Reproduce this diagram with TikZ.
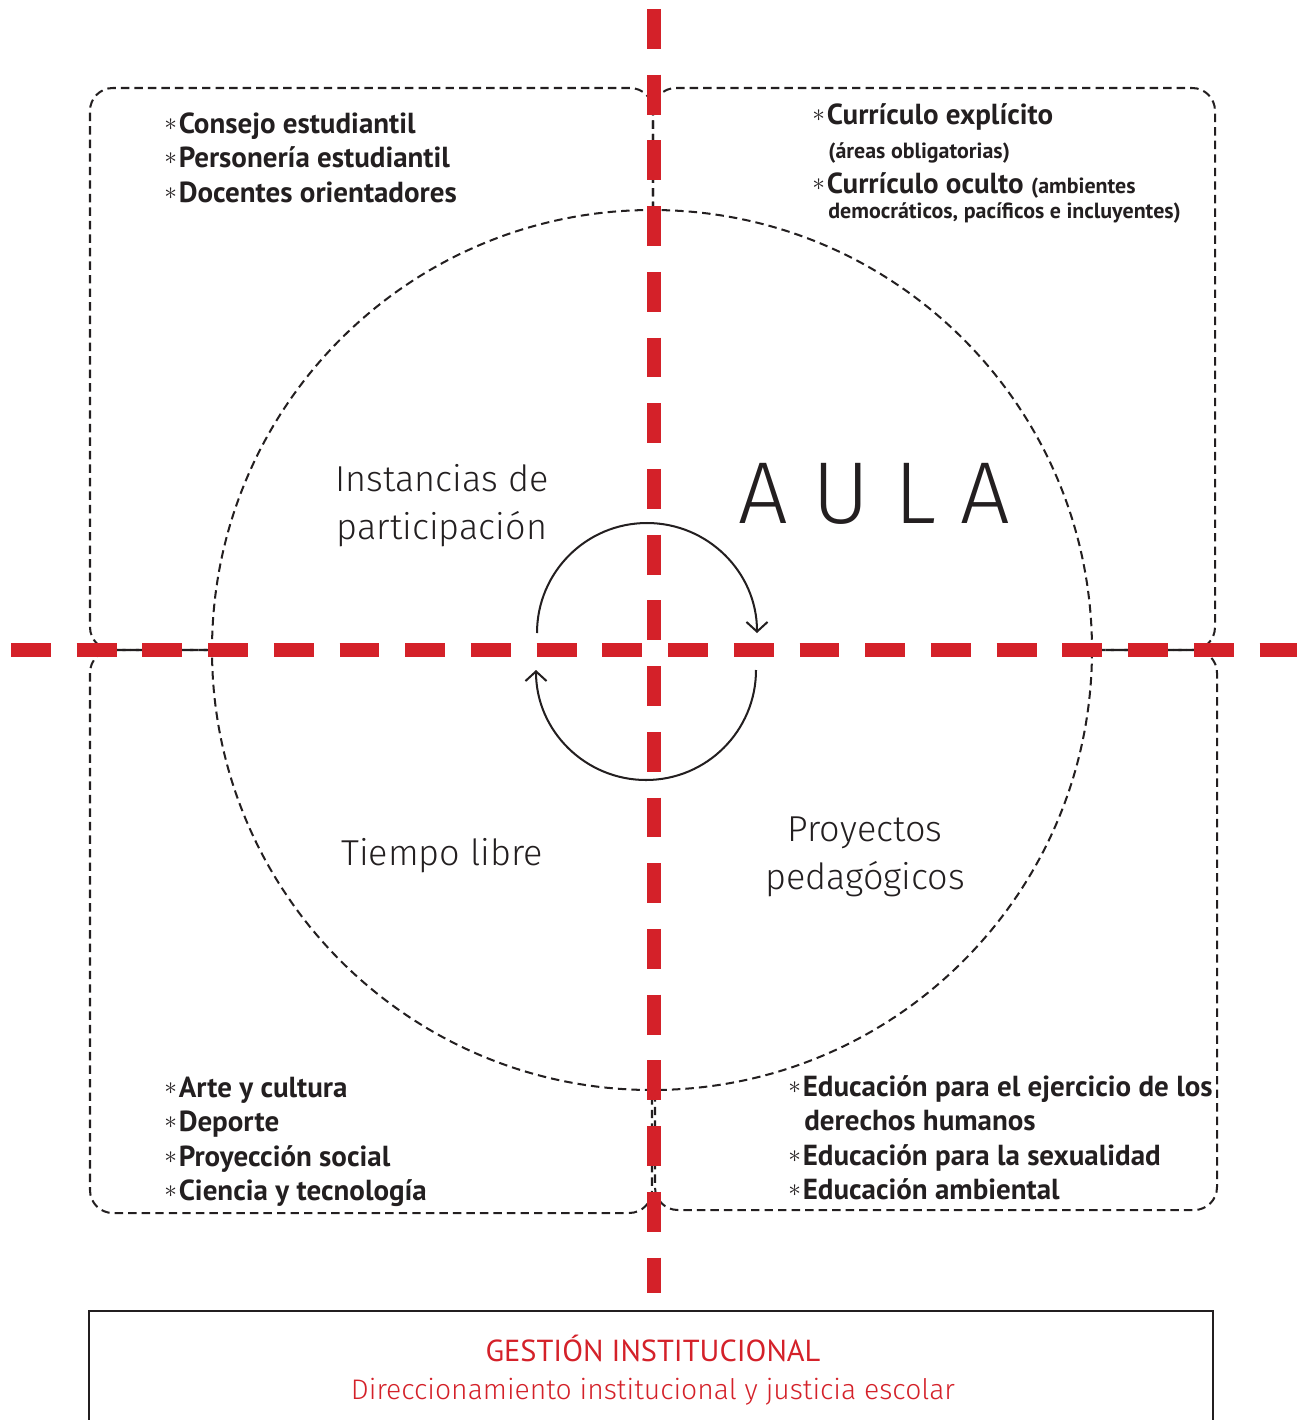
\documentclass[tikz,border=0pt]{standalone}
\usepackage{fontspec}
\setmainfont{PT Sans}
\newfontfamily\lightfont{Fira Sans Light}
\usepackage{tikz}
\usetikzlibrary{arrows.meta}
\definecolor{aulared}{RGB}{212,33,41}
\definecolor{inkgray}{RGB}{35,31,32}
\newcommand{\bul}{\raisebox{1.2pt}{\fontsize{14}{14}\selectfont$\ast$}\hspace{1pt}}

\begin{document}
\begin{tikzpicture}[x=0.02cm,y=-0.02cm,
  boxline/.style={inkgray, line width=1.15pt, dash pattern=on 4.8pt off 2.9pt, rounded corners=13pt},
  redline/.style={aulared, line width=7.9pt, dash pattern=on 22.7pt off 14.7pt},
  listtxt/.style={anchor=base west, inner sep=0pt, text=inkgray, font=\fontsize{16.5}{19}\selectfont\bfseries},
  smalltxt/.style={anchor=base west, inner sep=0pt, text=inkgray, font=\fontsize{12.5}{15}\selectfont\bfseries},
  thintxt/.style={anchor=base, inner sep=0pt, text=inkgray, font=\lightfont\fontsize{20.5}{24}\selectfont},
  turn/.style={inkgray, line width=1.15pt, -{Straight Barb[length=5.5pt,width=12pt]}}]
\useasboundingbox (0,0) rectangle (1300,1420);

% Quadrant boxes
\draw[boxline] (653,210) -- (653,88) -- (90,88) -- (90,650) -- (212,650);
\draw[boxline] (653,210) -- (653,88) -- (1215,88) -- (1215,650) -- (1092,650);
\draw[boxline] (212,650) -- (90,650) -- (90,1213) -- (652,1213) -- (652,1092);
\draw[boxline] (1092,650) -- (1217,650) -- (1217,1210) -- (655,1210) -- (655,1092);
% Circle
\draw[boxline] (652,650) circle[radius=440];

% Cycle arrows
\draw[turn] (537,633) arc[start angle=180, end angle=360, radius=110];
\draw[turn] (756,670) arc[start angle=0, end angle=180, radius=110];

% Axes
\draw[redline] (11,650) -- (1297,650);
\draw[redline] (654,9) -- (654,1293);

% Top left
\node[listtxt] (cons) at (164,133) {\bul Consejo estudiantil};
\node[listtxt] (pers) at (164,167) {\bul Personería estudiantil};
\node[listtxt] (doce) at (164,202) {\bul Docentes orientadores};
% Top right
\node[listtxt] (expl) at (812,124) {\bul Currículo explícito};
\node[smalltxt] (obli) at (828,158) {(áreas obligatorias)};
\node[listtxt] (ocul) at (812,193) {\bul Currículo oculto {\fontsize{12.5}{15}\selectfont(ambientes}};
\node[smalltxt] (demo) at (828,218) {democráticos, pacíficos e incluyentes)};
% Bottom left
\node[listtxt] (arte) at (164,1097) {\bul Arte y cultura};
\node[listtxt] (depo) at (164,1131) {\bul Deporte};
\node[listtxt] (proy) at (164,1166) {\bul Proyección social};
\node[listtxt] (cien) at (164,1200) {\bul Ciencia y tecnología};
% Bottom right
\node[listtxt] (ejer) at (788,1096) {\bul Educación para el ejercicio de los};
\node[listtxt] (dere) at (804,1130) {derechos humanos};
\node[listtxt] (sexu) at (788,1165) {\bul Educación para la sexualidad};
\node[listtxt] (ambi) at (788,1199) {\bul Educación ambiental};

% Quadrant names
\node[thintxt] (inst) at (442,491) {Instancias de};
\node[thintxt] (part) at (442,539) {participación};
\node[thintxt] (tiem) at (442,865) {Tiempo libre};
\node[thintxt] (proj) at (865,841) {Proyectos};
\node[thintxt] (peda) at (865,889) {pedagógicos};
\node[anchor=base west, inner sep=0pt, text=inkgray, font=\lightfont\fontsize{50}{60}\selectfont]
  (aula) at (738,523) {A\hspace{14pt}U\hspace{14pt}L\hspace{14pt}A};

% Gestion box
\draw[inkgray, line width=1.5pt] (89,1421) -- (89,1311) -- (1213,1311) -- (1213,1421);
\node[anchor=base, inner sep=0pt, text=aulared, font=\fontsize{17.3}{20}\selectfont] (gest) at (653,1361) {GESTIÓN INSTITUCIONAL};
\node[anchor=base, inner sep=0pt, text=aulared, font=\lightfont\fontsize{16.1}{19}\selectfont] (dire) at (653,1399) {Direccionamiento institucional y justicia escolar};
\end{tikzpicture}
\end{document}
